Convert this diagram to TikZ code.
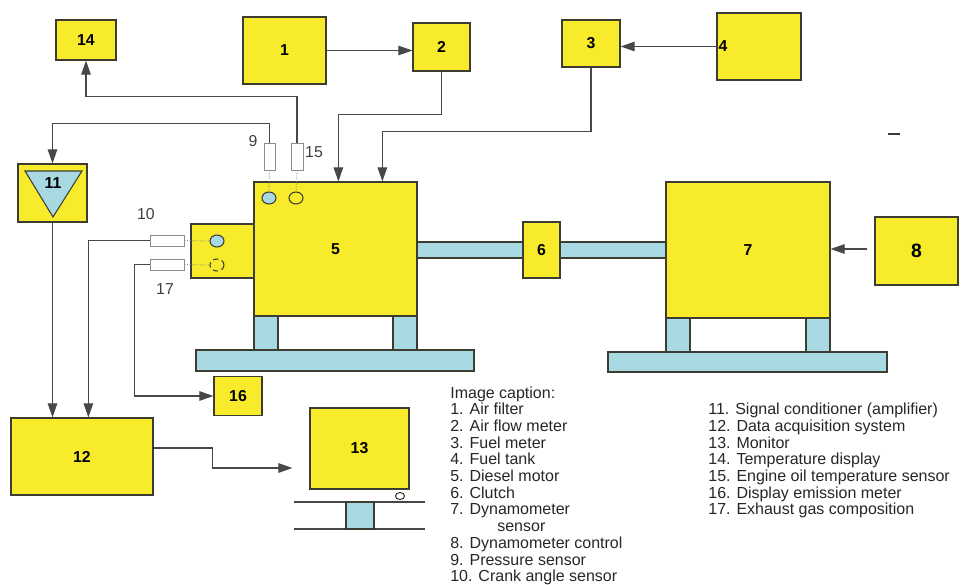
\documentclass[tikz,border=0pt]{standalone}
\usepackage{fontspec}
\setmainfont{Liberation Sans}
\usetikzlibrary{arrows.meta,shapes.geometric}
\definecolor{boxFill}{HTML}{F7EB2C}
\definecolor{boxEdge}{HTML}{3C3C30}
\definecolor{partFill}{HTML}{A8D8E2}
\definecolor{wireGray}{HTML}{474747}
\definecolor{sensEdge}{HTML}{8C8C8C}
\newcommand{\TagFont}{\fontsize{9}{10}\selectfont\bfseries}
\newcommand{\CapFont}{\fontsize{9.1}{9.5}\selectfont}

\begin{document}
\begin{tikzpicture}[
  x=0.02cm, y=-0.02cm,
  font=\CapFont,
  unitbox/.style  = {draw=boxEdge, fill=boxFill, line width=0.7pt, inner sep=0pt, font=\TagFont},
  partbox/.style  = {draw=boxEdge, fill=partFill, line width=0.7pt},
  probebox/.style = {draw=sensEdge, fill=white, line width=0.5pt, inner sep=0pt},
  portmark/.style = {ellipse, draw=boxEdge, line width=0.6pt, minimum width=0.28cm,
                     minimum height=0.24cm, inner sep=0pt},
  wire/.style     = {-{Triangle[length=2.8mm,width=1.9mm]}, draw=wireGray, line width=0.6pt},
  linkdot/.style  = {draw=sensEdge, densely dotted, line width=0.5pt},
  tagtext/.style  = {inner sep=1pt, font=\fontsize{9}{10}\selectfont, text=black!75},
  capline/.style  = {anchor=base west, inner sep=0pt, text=black!85},
]
\useasboundingbox (0,0) rectangle (972,584);

% ---------------------------------------------------------------- test bench frame
\draw[partbox] (417,242) rectangle (523,258);
\draw[partbox] (560,242) rectangle (666,258);
\draw[partbox] (254,316) rectangle (278,350);
\draw[partbox] (393,316) rectangle (417,350);
\draw[partbox] (196,350) rectangle (474,371);
\draw[partbox] (666,318) rectangle (690,352);
\draw[partbox] (806,318) rectangle (830,352);
\draw[partbox] (608,352) rectangle (887,372);

% ---------------------------------------------------------------- units
\node[unitbox, minimum width=1.26cm, minimum height=1.08cm] (head) at (222.5,251) {};
\node[unitbox, minimum width=3.26cm, minimum height=2.68cm] (eng) at (335.5,249) {5};
\node[unitbox, minimum width=1.20cm, minimum height=0.80cm] (b14) at (86,40) {14};
\node[unitbox, minimum width=1.66cm, minimum height=1.34cm] (b1) at (284.5,50.5) {1};
\node[unitbox, minimum width=1.14cm, minimum height=0.96cm] (b2) at (441.5,47) {2};
\node[unitbox, minimum width=1.16cm, minimum height=0.94cm] (b3) at (591,43.5) {3};
\node[unitbox, minimum width=1.68cm, minimum height=1.34cm,
      label={[anchor=west, inner sep=1pt, font=\TagFont]west:4}] (b4) at (759,46.5) {};
\node[unitbox, minimum width=0.74cm, minimum height=1.12cm] (b6) at (541.5,250) {6};
\node[unitbox, minimum width=3.28cm, minimum height=2.72cm] (b7) at (748,250) {7};
\node[unitbox, minimum width=1.66cm, minimum height=1.36cm,
      font=\fontsize{11}{12}\selectfont\bfseries] (b8) at (916.5,251) {8};
\node[unitbox, minimum width=1.38cm, minimum height=1.16cm] (b11) at (52.5,193) {};
\node[unitbox, minimum width=2.84cm, minimum height=1.54cm] (b12) at (82,456.5) {12};
\node[unitbox, minimum width=1.98cm, minimum height=1.62cm] (b13) at (359.5,448.5) {13};
\node[unitbox, minimum width=0.96cm, minimum height=0.78cm] (b16) at (238,396) {16};

% amplifier symbol
\draw[partbox, line width=0.6pt] (25,171) -- (82,171) -- (53,217) -- cycle;
\node[font=\TagFont, inner sep=0pt] (t11) at (53,183) {11};

% monitor stand
\draw[wireGray, line width=0.6pt] (294,502) -- (425,502);
\draw[wireGray, line width=0.6pt] (294,529) -- (425,529);
\draw[partbox, line width=0.6pt] (346,502) rectangle (374,529);
\draw[boxEdge, line width=0.6pt] (400,496) ellipse (4.5 and 3.5);

\draw[boxEdge, line width=1pt] (888,134) -- (900,134);

% ---------------------------------------------------------------- sensors
\node[probebox, minimum width=0.22cm, minimum height=0.54cm] (s9)  at (269.5,156.5) {};
\node[probebox, minimum width=0.24cm, minimum height=0.54cm] (s15) at (297,156.5) {};
\node[probebox, minimum width=0.68cm, minimum height=0.22cm] (s10) at (167,240.5) {};
\node[probebox, minimum width=0.68cm, minimum height=0.22cm] (s17) at (167,264.5) {};
\node[portmark, fill=partFill] (c9)  at (269,198) {};
\node[portmark, fill=boxFill]  (c15) at (296,198) {};
\node[portmark, fill=partFill] (c10) at (217,241) {};
\node[portmark, fill=boxFill, densely dashed] (c17) at (217,265) {};
\draw[linkdot] (s9.south) -- (c9.north);
\draw[linkdot] (s15.south) -- (c15.north);
\draw[linkdot] (s10.east) -- (c10.west);
\draw[linkdot] (s17.east) -- (c17.west);

\node[tagtext] (l9)  at (253,141) {9};
\node[tagtext] (l15) at (314,152) {15};
\node[tagtext] (l10) at (146,214) {10};
\node[tagtext] (l17) at (165,289) {17};

% ---------------------------------------------------------------- connectors
\draw[wire] (b1.east) -- (b1.east -| b2.west);
\draw[wire] (b4.west) -- (b4.west -| b3.east);
\draw[wire] (b2.south) |- ([xshift=1.7cm,yshift=1.34cm]eng.north west)
            -- ([xshift=1.7cm]eng.north west);
\draw[wire] (b3.south) |- ([xshift=2.58cm,yshift=1.0cm]eng.north west)
            -- ([xshift=2.58cm]eng.north west);
\draw[wire] (s15.north) |- ([yshift=-0.72cm]b14.south) -- (b14.south);
\draw[wire] (s9.north) |- ([yshift=0.8cm]b11.north) -- (b11.north);
\draw[wire] (b11.south) -- (b11.south |- b12.north);
\draw[wire] (s10.west) -| ([xshift=1.56cm]b12.north west);
\draw[wire] (s17.west) -- ++(-15,0) |- (b16.west);
\draw[wire] ([yshift=0.17cm]b12.east) -- ++(59,0)
            |- ([xshift=-0.34cm,yshift=-0.39cm]b13.west);
\draw[wire] ([xshift=-0.14cm,yshift=0.04cm]b8.west) -- ([yshift=0.04cm]b8.west -| b7.east);

% ---------------------------------------------------------------- caption
\node[capline] (capT) at (450,398) {Image caption:};
\foreach \txt [count=\k] in {{1. Air filter}, {2. Air flow meter}, {3. Fuel meter},
    {4. Fuel tank}, {5. Diesel motor}, {6. Clutch}, {7. Dynamometer}}
  \node[capline] (capA\k) at (450,398+16.7*\k) {\txt};
\node[capline] (capS) at (497,398+16.7*8) {sensor};
\foreach \txt [count=\k from 9] in {{8. Dynamometer control}, {9. Pressure sensor},
    {10. Crank angle sensor}}
  \node[capline] (capA\k) at (450,398+16.7*\k) {\txt};
\foreach \txt [count=\k] in {{11. Signal conditioner (amplifier)}, {12. Data acquisition system},
    {13. Monitor}, {14. Temperature display}, {15. Engine oil temperature sensor},
    {16. Display emission meter}, {17. Exhaust gas composition}}
  \node[capline] (capB\k) at (708,398+16.7*\k) {\txt};

\end{tikzpicture}
\end{document}
